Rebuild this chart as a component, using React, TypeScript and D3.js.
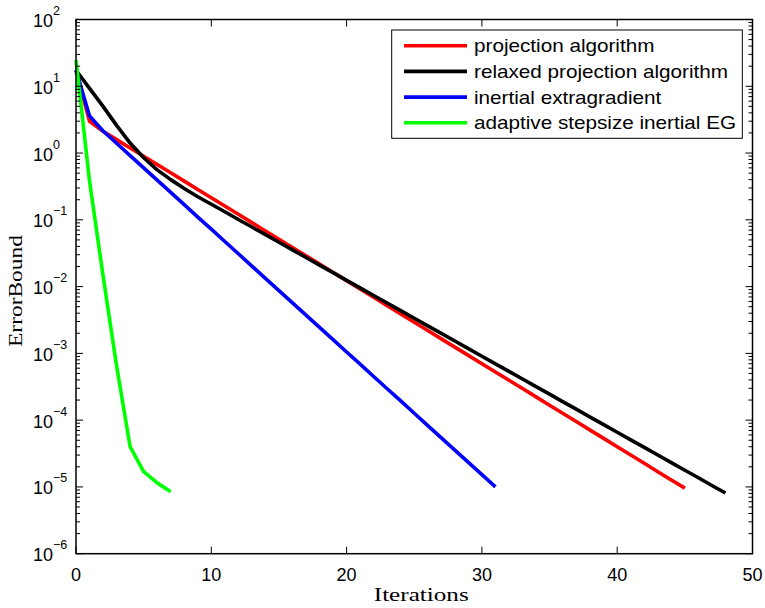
import React, { useRef, useEffect } from "react";
import * as d3 from "d3";

// values (ErrorBound per iteration)
const projection = [
  17.4, 3.0, 2.12, 1.59, 1.19, 0.897, 0.673, 0.506, 0.38, 0.285, 0.214, 0.161,
  0.121, 0.0909, 0.0682, 0.0513, 0.0385, 0.0289, 0.0217, 0.0163, 0.0123,
  0.0092, 0.00691, 0.00519, 0.0039, 0.00293, 0.0022, 0.00165, 0.00124,
  0.000933, 0.0007, 0.000526, 0.000395, 0.000297, 0.000223, 0.000167,
  0.000126, 9.44e-5, 7.09e-5, 5.33e-5, 4.0e-5, 3.01e-5, 2.26e-5, 1.69e-5,
  1.27e-5, 9.6e-6,
];
const relaxed = [
  17.4, 9.3, 5.0, 2.6, 1.41, 0.85, 0.56, 0.4, 0.295, 0.222, 0.171, 0.132,
  0.101, 0.078, 0.06, 0.0461, 0.0355, 0.0273, 0.021, 0.0162, 0.0124, 0.00957,
  0.00737, 0.00567, 0.00437, 0.00336, 0.00258, 0.00199, 0.00153, 0.00118,
  0.000906, 0.000697, 0.000537, 0.000413, 0.000318, 0.000245, 0.000188,
  0.000145, 0.000111, 8.57e-5, 6.59e-5, 5.07e-5, 3.91e-5, 3.01e-5, 2.31e-5,
  1.78e-5, 1.37e-5, 1.05e-5, 8.1e-6,
];
const inertial = [
  17.4, 3.6, 2.14, 1.4, 0.917, 0.601, 0.394, 0.258, 0.169, 0.11, 0.0724,
  0.0474, 0.031, 0.0203, 0.0133, 0.00872, 0.00571, 0.00374, 0.00245, 0.00161,
  0.00105, 0.000689, 0.000451, 0.000295, 0.000194, 0.000127, 8.3e-5, 5.43e-5,
  3.56e-5, 2.33e-5, 1.53e-5, 1.0e-5,
];
const adaptive = [24.8, 0.38, 0.0145, 6.5e-4, 4.0e-5, 1.7e-5, 1.15e-5, 8.5e-6];

const seriesNames = [
  "projection algorithm",
  "relaxed projection algorithm",
  "inertial extragradient",
  "adaptive stepsize inertial EG",
];
const seriesColors = ["#ff0000", "#000000", "#0000ff", "#00ff00"];
const xTicks = [0, 10, 20, 30, 40, 50];
const yExponents = [-6, -5, -4, -3, -2, -1, 0, 1, 2];

export default function App() {
  const canvas = useRef<SVGSVGElement | null>(null);

  useEffect(() => {
    const W = 765;
    const H = 608;
    const left = 76;
    const right = 752.5;
    const top = 19.5;
    const bottom = 553.7;

    const svg = d3.select(canvas.current).attr("width", W).attr("height", H);
    svg.selectAll("*").remove();

    const x = d3.scaleLinear().domain([0, 50]).range([left, right]);
    const y = d3.scaleLog().domain([1e-6, 1e2]).range([bottom, top]);

    const sans = "'Liberation Sans', Arial, Helvetica, sans-serif";
    const serif = "'Liberation Serif', 'Times New Roman', serif";

    svg.append("rect").attr("width", W).attr("height", H).attr("fill", "#fff");

    const data = [projection, relaxed, inertial, adaptive];
    const line = d3
      .line<number>()
      .x((d, i) => x(i))
      .y((d) => y(d));

    const plot = svg.append("g");
    plot
      .selectAll("path")
      .data(data)
      .enter()
      .append("path")
      .attr("d", (d) => line(d))
      .attr("fill", "none")
      .attr("stroke", (d, i) => seriesColors[i])
      .attr("stroke-width", 3.6)
      .attr("stroke-linejoin", "round");

    // ticks
    const ax = svg.append("g").attr("stroke", "#000").attr("stroke-width", 1);
    const major = 7;
    const minor = 4;
    xTicks.forEach((t) => {
      ax.append("line").attr("x1", x(t)).attr("x2", x(t)).attr("y1", bottom).attr("y2", bottom - major);
      ax.append("line").attr("x1", x(t)).attr("x2", x(t)).attr("y1", top).attr("y2", top + major);
    });
    yExponents.forEach((e) => {
      const v = Math.pow(10, e);
      ax.append("line").attr("x1", left).attr("x2", left + major).attr("y1", y(v)).attr("y2", y(v));
      ax.append("line").attr("x1", right).attr("x2", right - major).attr("y1", y(v)).attr("y2", y(v));
      if (e < 2) {
        for (let k = 2; k <= 9; k++) {
          const yy = y(k * v);
          ax.append("line").attr("x1", left).attr("x2", left + minor).attr("y1", yy).attr("y2", yy);
          ax.append("line").attr("x1", right).attr("x2", right - minor).attr("y1", yy).attr("y2", yy);
        }
      }
    });

    svg
      .append("rect")
      .attr("x", left)
      .attr("y", top)
      .attr("width", right - left)
      .attr("height", bottom - top)
      .attr("fill", "none")
      .attr("stroke", "#000")
      .attr("stroke-width", 1.5);

    // tick labels
    svg
      .append("g")
      .selectAll("text")
      .data(xTicks)
      .enter()
      .append("text")
      .attr("x", (d) => x(d))
      .attr("y", 581)
      .attr("text-anchor", "middle")
      .attr("font-family", sans)
      .attr("font-size", 18)
      .text((d) => d);

    const yl = svg
      .append("g")
      .selectAll("text")
      .data(yExponents)
      .enter()
      .append("text")
      .attr("x", 33)
      .attr("y", (d) => y(Math.pow(10, d)) + 7.5)
      .attr("font-family", sans)
      .attr("font-size", 18);
    yl.append("tspan").text("10");
    yl.append("tspan")
      .attr("dy", -12)
      .attr("font-size", 12.5)
      .text((d) => (d < 0 ? "\u2212" + -d : String(d)));

    // axis titles
    svg
      .append("text")
      .attr("x", (left + right) / 2 + 7)
      .attr("y", 601)
      .attr("text-anchor", "middle")
      .attr("font-family", serif)
      .attr("font-size", 18)
      .attr("textLength", 95)
      .attr("lengthAdjust", "spacingAndGlyphs")
      .text("Iterations");
    svg
      .append("text")
      .attr("transform", "translate(21.5,291) rotate(-90)")
      .attr("text-anchor", "middle")
      .attr("font-family", serif)
      .attr("font-size", 18)
      .attr("textLength", 112)
      .attr("lengthAdjust", "spacingAndGlyphs")
      .text("ErrorBound");

    // legend
    const lg = svg.append("g");
    lg.append("rect")
      .attr("x", 391.7)
      .attr("y", 30)
      .attr("width", 350.6)
      .attr("height", 108.3)
      .attr("fill", "#fff")
      .attr("stroke", "#000")
      .attr("stroke-width", 1);
    const rows = lg
      .selectAll("g.row")
      .data(seriesNames)
      .enter()
      .append("g")
      .attr("class", "row")
      .attr("transform", (d, i) => `translate(0, ${45.7 + i * 25.7})`);
    rows
      .append("line")
      .attr("x1", 404)
      .attr("x2", 467)
      .attr("stroke", (d, i) => seriesColors[i])
      .attr("stroke-width", 3.6);
    rows
      .append("text")
      .attr("transform", "translate(474, 6.5) scale(1.15, 1)")
      .attr("font-family", sans)
      .attr("font-size", 18)
      .text((d) => d);
  }, []);

  return (
    <svg ref={canvas} style={{ position: "absolute", left: 0, top: 0 }}></svg>
  );
}
